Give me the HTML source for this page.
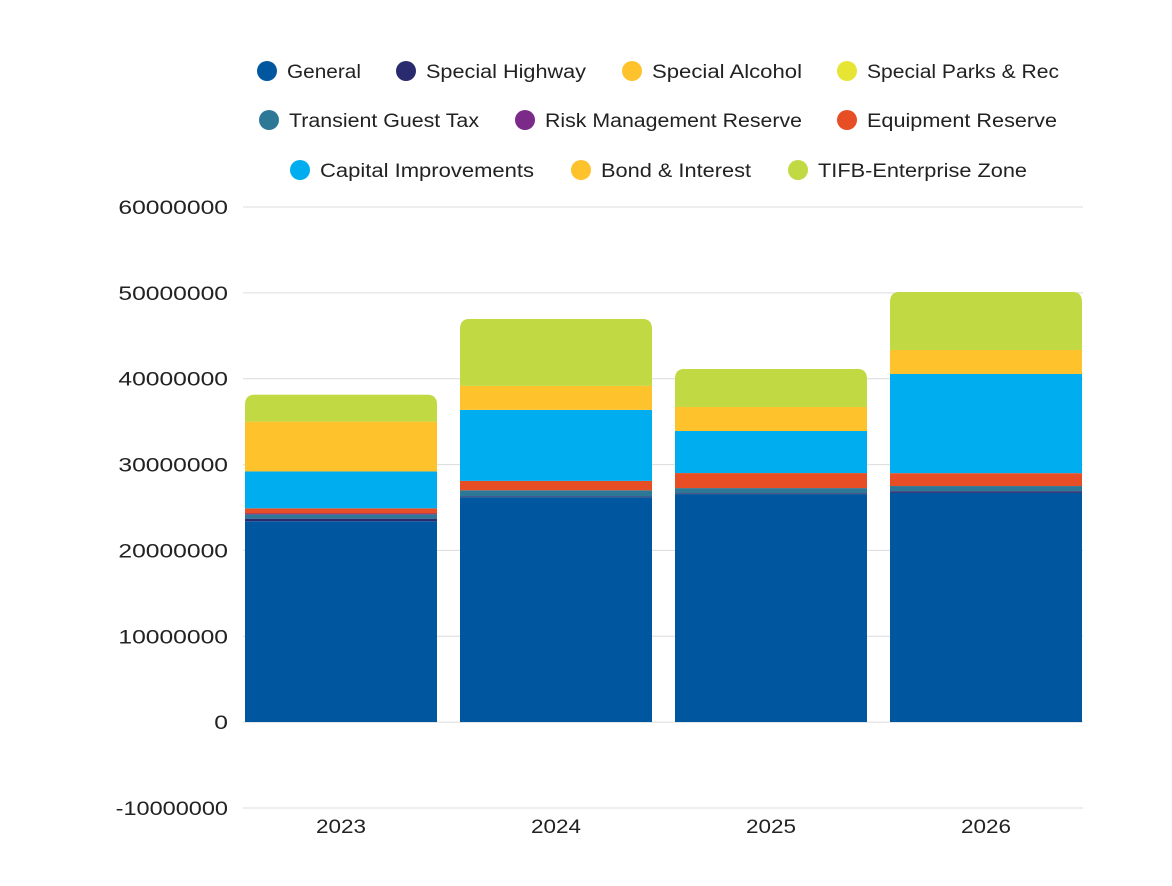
<!DOCTYPE html>
<html><head><meta charset="utf-8"><style>
body{margin:0;background:#fff}
svg{display:block;font-family:"Liberation Sans",sans-serif}
</style></head><body>
<svg id="chart" width="1172" height="886" viewBox="0 0 1172 886"></svg>
<script>
const years=["2023","2024","2025","2026"];
const seriesNames=["General","Special Highway","Special Alcohol","Special Parks & Rec","Transient Guest Tax","Risk Management Reserve","Equipment Reserve","Capital Improvements","Bond & Interest","TIFB-Enterprise Zone"];
const colors=["#0057a0","#2a2a6e","#fdc22c","#e7e533","#2d7896","#7b2a8a","#e84e25","#00adef","#fdc22c","#c1d943"];
const general=[23400000,26200000,26560000,26700000];
const highway=[300000,100000,100000,200000];
const alcohol=[0,0,0,0];
const parks=[0,0,0,0];
const transient=[500000,700000,600000,600000];
const risk=[100000,0,0,0];
const equipment=[600000,1100000,1750000,1500000];
const capital=[4300000,8270000,4900000,11550000];
const bond=[5800000,2800000,2800000,2800000];
const tifb=[3150000,7800000,4430000,6760000];
const yTicks=[-10000000,0,10000000,20000000,30000000,40000000,50000000,60000000];
const series=[general,highway,alcohol,parks,transient,risk,equipment,capital,bond,tifb];
const NS="http://www.w3.org/2000/svg";
const svg=document.getElementById('chart');
const x0=245,x1=1082,yMin=-10000000,yMax=60000000,py0=808,py1=207;
function yS(v){return py0-(v-yMin)/(yMax-yMin)*(py0-py1);}
const bw=192,gap=23;
function xS(i){return x0+i*(bw+gap);}
function mk(t,a){const e=document.createElementNS(NS,t);for(const k in a)e.setAttribute(k,a[k]);svg.appendChild(e);return e;}
yTicks.forEach(v=>{
  const l=mk('line',{x1:243,x2:1083,y1:yS(v),y2:yS(v),stroke:'#dcdcdc','stroke-width':1});
  
  
  const s=String(v);
  const t=mk('text',{x:228,y:yS(v)+7,'text-anchor':'end','font-size':19,fill:'#222',textLength:s.length*13.7+(v<0?-11:0),lengthAdjust:'spacingAndGlyphs'});
  t.textContent=s;
  
  
});
const r=10;
years.forEach((yr,i)=>{
  const bx=xS(i);
  const clipId='c'+i;
  const tot=series.reduce((a,s)=>a+s[i],0);
  const defs=mk('defs',{});
  const cp=document.createElementNS(NS,'clipPath');cp.setAttribute('id',clipId);
  const top=yS(tot),bot=yS(0);
  const p=document.createElementNS(NS,'path');
  p.setAttribute('d',`M${bx},${bot}V${top+r}Q${bx},${top} ${bx+r},${top}H${bx+bw-r}Q${bx+bw},${top} ${bx+bw},${top+r}V${bot}Z`);
  cp.appendChild(p);defs.appendChild(cp);
  const g=mk('g',{'clip-path':`url(#${clipId})`});
  
  
  let cum=0;
  series.forEach((s,k)=>{
    if(s[i]<=0)return;
    const ya=yS(cum+s[i]),yb=yS(cum);cum+=s[i];
    const rc=document.createElementNS(NS,'rect');
    rc.setAttribute('x',bx);rc.setAttribute('y',ya);rc.setAttribute('width',bw);rc.setAttribute('height',yb-ya);rc.setAttribute('fill',colors[k]);
    
    
    g.appendChild(rc);
  });
  const t=mk('text',{x:bx+bw/2,y:833,'text-anchor':'middle','font-size':19,fill:'#222',textLength:50,lengthAdjust:'spacingAndGlyphs'});
  t.textContent=yr;
  
  
});
const legPos=[[267,71,74],[406,71,160],[632,71,150],[847,71,192],[269,120,190],[525,120,257],[847,120,190],[300,170,214],[581,170,150],[798,170,209]];
seriesNames.forEach((n,k)=>{
  const [cx,cy,w]=legPos[k];
  const g=mk('g',{});
  
  
  const c=document.createElementNS(NS,'circle');c.setAttribute('cx',cx);c.setAttribute('cy',cy);c.setAttribute('r',10);c.setAttribute('fill',colors[k]);g.appendChild(c);
  const t=document.createElementNS(NS,'text');t.setAttribute('x',cx+20);t.setAttribute('y',cy+7);t.setAttribute('font-size',19);t.setAttribute('fill','#222');t.setAttribute('textLength',w);t.setAttribute('lengthAdjust','spacingAndGlyphs');t.textContent=n;g.appendChild(t);
});
</script>
</body></html>
